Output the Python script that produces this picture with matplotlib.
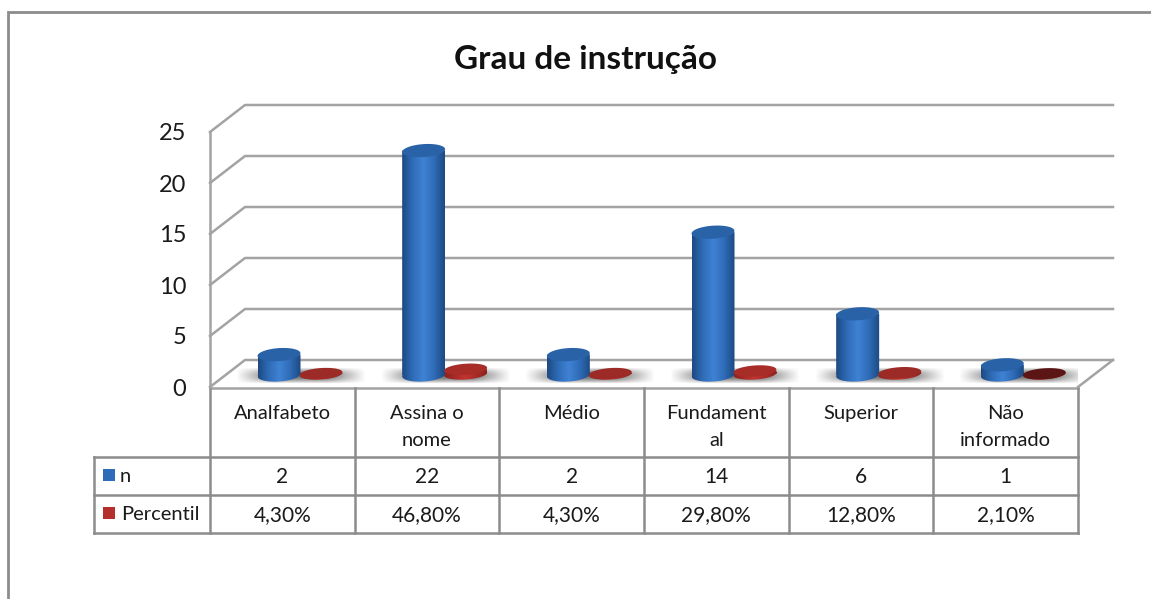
import numpy as np
import matplotlib
matplotlib.use('Agg')
import matplotlib.pyplot as plt
from matplotlib.path import Path
from matplotlib.patches import PathPatch, Rectangle
from matplotlib.colors import LinearSegmentedColormap

plt.rcParams['font.family'] = ['Lato', 'DejaVu Sans']

categories = ['Analfabeto', 'Assina o\nnome', 'Médio', 'Fundament\nal', 'Superior', 'Não\ninformado']
n_values = [2, 22, 2, 14, 6, 1]
pct_values = [0.043, 0.468, 0.043, 0.298, 0.128, 0.021]
pct_labels = ['4,30%', '46,80%', '4,30%', '29,80%', '12,80%', '2,10%']
y_ticks = [0, 5, 10, 15, 20, 25]

W, H = 1151, 599
GRID = '#a3a3a3'
LINE = '#8c8c8c'
TEXT = '#1a1a1a'

fig = plt.figure(figsize=(W / 100, H / 100), dpi=100)

# overlay in pixel coords for the frame, title and table
over = fig.add_axes([0, 0, 1, 1], zorder=0)
over.set_xlim(0, W)
over.set_ylim(H, 0)
over.axis('off')

# plot front plane: x 210..1078, y 387..132
ax = fig.add_axes([210 / W, (H - 387) / H, 868 / W, 255 / H], zorder=1)
ax.patch.set_alpha(0)
PX = 6 / 868
PY = 25 / 255
for s in ['top', 'right', 'bottom']:
    ax.spines[s].set_visible(False)
ax.spines['left'].set_color(GRID)
ax.spines['left'].set_linewidth(1.8)
ax.set_xticks([])
ax.set_yticks(y_ticks)
ax.tick_params(axis='y', length=0, pad=17, labelsize=17, labelcolor=TEXT)

# walls and floor
dx, dy = 35 * PX, 27 * PY
for v in y_ticks:
    ax.plot([0, dx, 6 + dx], [v, v + dy, v + dy], color=GRID, lw=1.8, clip_on=False, zorder=1)
ax.plot([6, 6 + dx], [0, dy], color=GRID, lw=1.8, clip_on=False, zorder=1)


def ellipse(cx, cy, w, h, tilt=4):
    t = np.linspace(0, 2 * np.pi, 80)
    a = np.radians(tilt)
    ex, ey = w / 2 * np.cos(t), h / 2 * np.sin(t)
    return np.column_stack([cx + (ex * np.cos(a) - ey * np.sin(a)) * PX,
                            cy + (ex * np.sin(a) + ey * np.cos(a)) * PY])


side_blue = LinearSegmentedColormap.from_list('b', ['#1d4a82', '#2f6cb8', '#3f82d4', '#2f6cb8', '#1d4a82'])
side_red = LinearSegmentedColormap.from_list('r', ['#8e211e', '#c23530', '#8e211e'])
grad = np.linspace(0, 1, 64).reshape(1, -1)


def cylinder(x, value, base, width, height, cmap, top_color):
    low = ellipse(x, base, width, height)
    high = ellipse(x, base + value, width, height)
    hw = width / 2 * PX
    rect = [(x - hw, base), (x + hw, base), (x + hw, base + value), (x - hw, base + value), (x - hw, base)]
    body = Path.make_compound_path(Path(low, closed=True), Path(rect, closed=True))
    im = ax.imshow(grad, extent=[x - hw, x + hw, base - height * PY, base + value], cmap=cmap,
                   aspect='auto', zorder=4)
    im.set_clip_path(PathPatch(body, transform=ax.transData))
    ax.fill(high[:, 0], high[:, 1], color=top_color, lw=0, zorder=5, clip_on=False)


# soft shadow on the floor behind each pair of bars
sx = np.linspace(0, 1, 120)
sy = np.linspace(0, 1, 20)
fade = np.minimum(np.minimum(sx / 0.3, (1 - sx) / 0.3), 1)[None, :] * np.sin(np.pi * sy)[:, None]
shadow = np.zeros((20, 120, 4))
shadow[..., 0:3] = 0.3
shadow[..., 3] = 0.8 * fade

base = 12 * PY
top_blue = '#2a62a8'
reds = ['#9c2a26', '#a82c28', '#9c2a26', '#a82c28', '#9c2a26', '#5c1515']
for i in range(len(categories)):
    xb = i + 69 * PX
    xr = i + 111 * PX
    ax.imshow(shadow, extent=[i + 26 * PX, i + 156 * PX, 3 * PY, 20 * PY], aspect='auto', zorder=2)
    cylinder(xr, pct_values[i], base + PY * 1, 43, 11, side_red, reds[i])
    cylinder(xb, n_values[i], base, 43, 13, side_blue, top_blue)
ax.set_xlim(0, 6)
ax.set_ylim(0, 25)

# outer frame, open at the bottom and right
over.plot([8.5, 8.5, W], [H, 11.5, 11.5], color=LINE, lw=2, solid_joinstyle='miter')
over.text(586, 59, 'Grau de instrução', ha='center', va='center', fontsize=24, fontweight='bold', color='#111111')

# data table
col_x = 210 + np.arange(len(categories) + 1) * 868 / len(categories)
rows = [388, 457, 495, 533]
left = 94
over.plot([col_x[0], col_x[-1]], [rows[0], rows[0]], color=GRID, lw=1.8)
for r in rows[1:]:
    over.plot([left, col_x[-1]], [r, r], color=LINE, lw=1.8)
over.plot([left, left], [rows[1], rows[3]], color=LINE, lw=1.8)
for c in col_x:
    over.plot([c, c], [rows[0], rows[3]], color=LINE, lw=1.8)

for i, name in enumerate(categories):
    cx = (col_x[i] + col_x[i + 1]) / 2
    over.text(cx, 405, name, ha='center', va='top', fontsize=14.5, linespacing=1.75, color=TEXT)
    over.text(cx, 477, str(n_values[i]), ha='center', va='center', fontsize=15, color=TEXT)
    over.text(cx, 515, pct_labels[i], ha='center', va='center', fontsize=15, color=TEXT)

over.add_patch(Rectangle((103, 469), 12, 12, color='#2f6cb8', lw=0))
over.add_patch(Rectangle((103, 507), 12, 12, color='#b5302c', lw=0))
over.text(120, 476, 'n', ha='left', va='center', fontsize=14.5, color=TEXT)
over.text(121, 514, 'Percentil', ha='left', va='center', fontsize=14.5, color=TEXT)

fig.savefig('out.png', dpi=100)
